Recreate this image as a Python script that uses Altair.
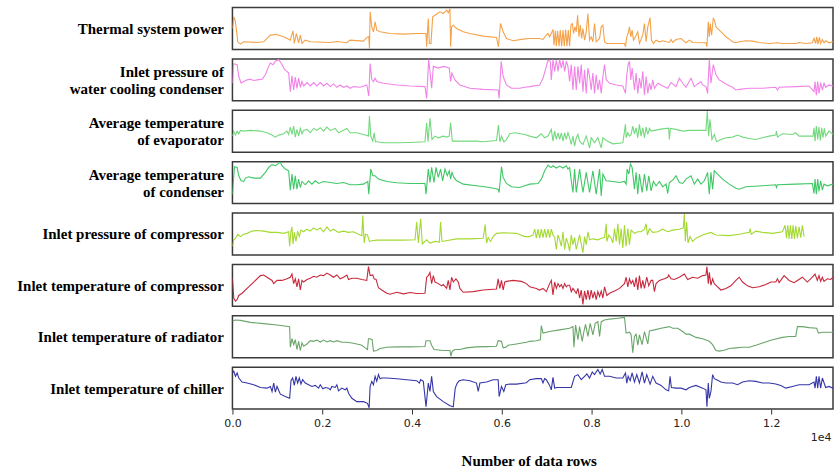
import altair as alt
import pandas as pd

# ---------------- data (row index, relative level) ----------------
labels = [
    "Thermal system power",
    ["Inlet pressure of", "water cooling condenser"],
    ["Average temperature", "of evaporator"],
    ["Average temperature", "of condenser"],
    "Inlet pressure of compressor",
    "Inlet temperature of compressor",
    "Inlet temperature of radiator",
    "Inlet temperature of chiller",
]
colors = ["#f4a24a", "#f183e8", "#74d97e", "#3fc766", "#a3d930", "#c8283c", "#6aa56a", "#3535a8"]
domains = [[0, 126], [0, 124], [0, 125], [0, 125], [0, 130], [0, 131], [0, 128], [0, 124]]

power_rows = [0,30,60,89,119,178,252,549,697,845,993,1104,1178,1289,1349,1378,1423,1474,1512,1549,1623,1734,2178,2326,2549,2623,2919,2993,3037,3052,3067,3104,3141,3178,3215,3289,3512,3808,4104,4312,4326,4363,4386,4423,4460,4512,4623,4697,4771,4808,4845,4860,4882,4919,4993,5141,5289,5586,5882,5926,5971,6030,6104,6252,6475,
    6622,6844,6918,6992,7029,7066,7103,7140,7163,7192,7215,7244,7274,7303,7333,7363,7392,7422,7452,7481,7511,7540,7570,7600,7629,7659,7689,7718,7748,7778,7807,7844,7881,7918,7955,7992,8029,8066,8103,8140,8178,8215,8252,8289,8340,8733,8755,8785,8815,8844,8874,8903,8933,8978,9029,9066,9141,9178,9215,9252,9303,9333,9377,9437,9511,9585,9733,9770,9807,9881,9992,10103,10178,10252,10474,10548,10570,10600,10622,10644,10674,10711,10740,10770,10844,10918,10992,11066,11141,11215,11289,11437,11585,11733,11955,12141,12252,12548,12622,12770,12918,12955,12992,13015,13044,13074,13103,13141,13178,13215,13289,13378]
power_vals = [63,98,88,58,23,16,23,21,23,43,45,40,36,28,56,18,48,20,43,18,28,23,21,24,20,28,25,36,38,3,113,68,53,83,58,53,48,46,48,48,8,93,18,18,98,103,113,108,118,110,123,8,68,73,63,53,48,40,36,8,78,53,33,26,31,
    33,33,30,43,48,38,48,60,13,56,10,56,10,58,10,58,10,60,10,58,10,73,78,48,68,53,103,38,73,33,63,28,53,108,28,38,23,78,23,28,33,68,73,23,18,18,8,38,48,68,38,58,28,38,53,18,43,78,23,68,96,28,18,28,23,26,21,30,21,30,33,20,28,21,20,20,8,83,38,78,43,93,88,68,58,48,38,31,23,20,23,26,25,21,18,20,18,18,21,18,20,33,18,38,16,36,18,30,20,26,20,23]

wcc_rows = [0,23,104,141,193,252,326,400,474,549,660,734,808,845,904,956,1030,1082,1126,1163,1215,1252,1289,1326,1363,1400,1437,1474,1512,1549,1586,1660,1734,1808,1882,1956,2030,2104,2178,2252,2326,2400,2475,2549,2623,2697,2845,2993,3037,3067,3104,3141,3178,3215,3363,3660,3956,4289,4326,4371,4400,4437,4475,4586,4697,4830,4860,4889,4956,5067,5289,5586,5919,5941,5986,6030,6104,6215,6400,6512,
    6622,6844,6918,6992,7029,7081,7103,7140,7178,7215,7252,7289,7326,7363,7400,7437,7474,7511,7548,7585,7622,7659,7696,7733,7770,7807,7844,7881,7918,7955,7992,8029,8066,8103,8140,8178,8215,8252,8289,8326,8400,8548,8696,8755,8785,8815,8844,8874,8903,8955,8992,9029,9066,9103,9141,9178,9215,9252,9289,9326,9363,9400,9474,9585,9696,9770,9881,9955,10029,10103,10215,10289,10363,10437,10474,10548,10585,10622,10659,10711,10770,10844,10992,11141,11215,11289,11511,11807,12103,12141,12178,12548,12844,12955,12978,13007,13037,13066,13103,13141,13178,13215,13289,13378]
wcc_vals = [52,110,107,72,52,57,62,64,60,62,64,77,102,112,107,117,122,112,102,92,87,82,27,74,32,70,37,67,40,57,44,54,44,54,44,54,44,52,42,50,40,47,40,44,37,42,40,47,14,110,64,57,67,57,52,47,44,42,7,122,87,37,102,97,102,97,57,82,62,47,37,34,32,7,117,72,47,37,37,40,
    42,47,67,102,120,117,62,122,87,120,87,122,97,120,87,117,102,57,107,32,102,32,102,52,107,27,92,22,97,72,32,82,22,77,32,62,22,72,107,62,52,47,44,22,77,107,117,62,97,32,82,22,67,37,87,17,72,22,52,32,62,37,52,44,37,54,42,67,52,40,67,42,50,57,47,42,22,122,52,107,77,62,50,40,32,34,37,37,40,32,40,42,44,27,57,17,57,22,54,32,52,40,47,44]

evap_rows = [0,30,67,104,141,178,252,400,623,771,882,956,1030,1141,1215,1252,1289,1326,1363,1400,1437,1474,1512,1549,1586,1660,1734,1808,1882,1956,2030,2104,2178,2289,2363,2437,2549,2623,2771,2919,3030,3052,3082,3126,3156,3186,3215,3363,3660,3956,4289,4326,4356,4400,4445,4512,4586,4697,4771,4830,4860,4897,4993,5437,5586,5882,5926,5956,5993,6045,6089,6178,6289,6512,
    6622,6770,6881,6955,7029,7103,7140,7178,7215,7252,7289,7326,7363,7400,7437,7474,7511,7548,7585,7622,7659,7696,7733,7807,7881,7955,7992,8066,8140,8215,8252,8326,8474,8696,8755,8770,8807,8844,8881,8918,8955,8992,9029,9066,9103,9141,9178,9215,9252,9289,9326,9400,9511,9659,9718,9733,9755,9881,10029,10178,10548,10578,10607,10637,10681,10733,10785,10881,10992,11141,11252,11363,11511,11659,11807,11955,12103,12118,12141,12252,12474,12548,12622,12844,12933,12955,12978,13007,13037,13066,13096,13126,13155,13185,13215,13289,13378]
evap_vals = [48,63,51,63,55,65,63,65,63,58,51,45,51,55,63,53,75,53,78,45,68,48,71,55,65,68,58,71,65,73,63,75,65,71,58,63,71,58,58,53,48,108,48,33,58,31,31,28,28,29,31,88,31,101,38,48,43,48,45,48,88,33,33,33,31,35,81,31,48,31,35,55,58,53,
    48,43,55,43,48,68,33,63,38,58,38,58,33,58,38,58,43,23,48,18,43,53,33,23,48,13,43,28,43,13,43,35,25,28,83,43,58,48,53,78,55,73,43,83,48,73,43,75,53,71,63,65,68,71,71,38,71,68,63,65,65,123,48,98,38,53,31,38,43,45,51,45,41,38,43,48,51,63,45,55,53,58,48,48,48,73,33,78,38,75,35,73,43,71,48,63,53]

cond_rows = [0,45,104,141,193,252,289,363,474,623,734,808,882,956,1030,1067,1104,1178,1252,1289,1326,1363,1400,1437,1474,1512,1549,1623,1697,1771,1845,1919,2030,2178,2326,2475,2623,2771,2919,3015,3037,3082,3126,3178,3252,3437,3660,3956,4289,4312,4363,4400,4437,4489,4534,4586,4637,4682,4734,4786,4830,4860,4889,4934,4993,5141,5437,5734,5919,5941,5993,6030,6104,6215,6400,6512,
    6622,6807,6881,6955,7029,7066,7103,7140,7215,7289,7363,7437,7474,7511,7548,7585,7622,7659,7733,7807,7881,7955,8029,8103,8178,8215,8252,8326,8474,8622,8733,8770,8792,8829,8866,8903,8955,8992,9029,9066,9126,9178,9229,9274,9326,9377,9437,9511,9585,9659,9696,9733,9807,9881,9955,10029,10103,10215,10289,10363,10437,10511,10585,10622,10659,10696,10733,10807,10918,11066,11215,11289,11437,11807,12103,12118,12141,12548,12918,12955,12978,13007,13037,13066,13103,13141,13178,13252,13378]
cond_vals = [28,110,108,83,68,66,76,80,76,76,93,108,116,113,120,123,113,103,98,40,88,43,83,43,73,48,66,56,68,58,68,60,66,63,60,63,56,56,58,66,28,103,83,83,73,66,62,60,60,28,103,63,108,63,108,78,103,68,103,83,98,73,93,78,68,58,53,48,43,33,110,78,60,50,48,53,
    58,60,73,98,115,110,108,113,106,112,106,113,103,108,68,33,103,33,103,33,93,33,98,28,103,23,88,68,66,63,66,58,103,88,118,108,43,93,28,88,33,88,38,83,38,66,53,66,50,58,30,63,70,83,63,60,73,83,58,73,58,68,93,28,93,43,98,88,73,58,46,43,50,53,56,48,56,58,60,30,73,28,73,36,68,40,58,53,58]

comp_p_rows = [0,30,67,119,178,252,326,437,549,697,845,993,1141,1252,1274,1304,1326,1349,1378,1415,1452,1489,1526,1586,1660,1734,1808,1882,1956,2030,2104,2178,2252,2363,2475,2586,2697,2808,2882,2904,2934,2963,3008,3052,3104,3215,3808,4067,4104,4141,4193,4230,4326,4400,4512,4608,4637,4667,4756,4993,5289,5586,5630,5660,5697,5749,5808,5882,6030,6326,6512,
    6622,6696,6733,6770,6807,6844,6881,6918,6955,6992,7029,7066,7103,7140,7178,7215,7252,7289,7326,7363,7400,7437,7474,7511,7548,7585,7622,7659,7733,7807,7844,7881,7918,7955,8029,8140,8215,8289,8326,8340,8385,8437,8474,8511,8548,8585,8622,8659,8696,8733,8770,8807,8844,8881,8955,9029,9103,9178,9215,9244,9289,9363,9474,9585,9696,9807,9955,10044,10066,10089,10118,10148,10192,10252,10326,10474,10659,10770,11066,11289,11511,11533,11555,11659,11807,12029,12252,12311,12341,12370,12400,12429,12459,12489,12518,12548,12585,12622,12659,12696,12733]
comp_p_vals = [27,47,52,64,57,64,67,74,76,74,70,70,67,72,27,74,87,34,70,42,74,57,77,72,80,74,84,77,84,72,87,74,80,70,74,70,72,64,60,122,37,64,62,42,44,46,46,47,102,37,112,34,47,37,42,40,102,42,44,50,50,52,94,37,54,42,57,67,69,67,57,
    57,62,80,52,80,52,80,54,80,54,80,54,80,62,54,17,62,47,27,72,17,52,37,12,62,32,54,17,62,7,57,32,72,47,50,47,52,54,97,42,62,52,37,82,42,97,32,82,22,92,27,82,32,77,67,72,72,80,97,62,82,70,72,80,72,77,80,84,127,42,102,37,57,42,52,62,70,62,60,64,70,82,64,74,70,67,72,92,52,92,50,92,50,92,50,90,52,87,54,92,57]

comp_t_rows = [0,30,67,104,141,215,326,474,623,697,771,882,919,993,1104,1215,1289,1326,1363,1400,1437,1474,1512,1549,1586,1660,1734,1808,1882,1956,2030,2104,2178,2252,2326,2400,2475,2549,2586,2660,2771,2882,2993,3030,3067,3126,3156,3200,3252,3326,3437,3512,3660,3808,3956,4104,4289,4326,4363,4400,4437,4475,4512,4586,4660,4697,4771,4808,4845,4882,4919,4978,5030,5067,5141,5363,5586,5882,5919,5956,5993,6030,6067,6104,6252,6437,6548,
    6622,6770,6844,6918,6992,7066,7103,7140,7178,7215,7252,7289,7326,7363,7400,7437,7474,7511,7548,7585,7659,7696,7733,7770,7807,7844,7881,7918,7955,7992,8029,8066,8103,8140,8178,8215,8252,8289,8340,8400,8511,8622,8733,8770,8807,8844,8881,8918,8955,8992,9029,9066,9103,9141,9178,9229,9274,9326,9363,9400,9437,9511,9622,9696,9718,9770,9844,9955,10066,10141,10252,10363,10474,10548,10570,10600,10622,10659,10696,10733,10807,10881,10992,11103,11215,11289,11363,11474,11585,11733,11881,11992,12103,12141,12178,12289,12400,12511,12585,12696,12807,12918,12978,13029,13066,13103,13141,13178,13252,13326,13378]
comp_t_vals = [86,26,16,21,34,41,56,76,96,98,91,81,71,81,81,86,91,101,71,86,61,86,51,81,76,84,88,94,91,98,96,104,98,91,98,86,91,98,84,88,88,84,81,124,96,98,86,84,58,51,41,38,44,39,43,40,41,91,96,106,71,96,76,71,64,68,56,81,51,91,76,86,76,56,44,46,51,54,86,56,81,51,76,78,81,78,71,
    61,56,51,56,46,71,81,36,76,56,71,61,68,56,71,61,66,66,46,56,41,56,26,51,6,48,21,51,21,51,26,46,21,46,31,48,26,61,34,41,48,56,71,91,61,86,71,81,61,91,51,96,56,81,56,91,64,81,81,46,71,81,86,91,98,86,84,91,101,84,91,88,96,98,124,71,106,66,86,71,61,51,56,64,81,91,76,64,58,61,68,76,76,86,74,96,81,74,81,91,76,91,101,81,96,78,91,78,86,84,91]

rad_rows = [0,67,178,400,697,993,1274,1289,1326,1363,1400,1437,1474,1512,1549,1586,1660,1734,1808,1882,1956,2030,2104,2178,2252,2326,2437,2549,2660,2771,2882,2956,3008,3030,3067,3112,3141,3215,3289,3437,3660,3956,4289,4312,4400,4437,4489,4697,4845,4867,4897,4956,5067,5215,5437,5660,5882,5919,5993,6030,6089,6141,6326,6548,
    6622,6770,6859,6881,6918,7066,7289,7511,7585,7607,7644,7696,7733,7792,7829,7866,7918,7970,8029,8081,8140,8178,8215,8289,8400,8548,8733,8770,8844,8881,8918,8955,8992,9029,9066,9126,9178,9252,9289,9400,9548,9733,9807,9918,10029,10103,10178,10326,10474,10622,10696,10770,10844,10955,11066,11215,11363,11511,11659,11807,12029,12252,12400,12548,12585,12696,12844,13015,13052,13141,13378]
rad_vals = [112,115,114,108,104,100,95,32,58,40,55,25,50,22,45,35,42,52,50,54,48,54,48,52,48,52,47,47,45,42,38,30,25,58,58,55,20,22,28,32,33,33,34,52,52,38,25,22,22,5,20,25,25,30,33,34,35,52,50,30,32,38,42,47,
    50,52,55,98,75,80,85,90,95,32,100,55,95,50,80,102,65,105,70,105,110,65,110,115,118,120,123,75,78,70,15,65,72,38,70,40,80,42,82,85,90,95,90,90,80,72,72,62,58,50,40,22,20,23,28,30,32,32,38,45,55,62,65,65,95,95,92,90,75,78,78]

chil_rows = [0,30,67,104,141,215,326,474,623,771,845,882,919,956,993,1067,1178,1274,1304,1341,1378,1415,1452,1489,1526,1563,1623,1697,1771,1845,1919,1956,2015,2067,2141,2178,2215,2289,2326,2363,2437,2512,2549,2586,2660,2771,2919,3008,3045,3067,3104,3141,3178,3215,3252,3289,3326,3437,3660,3882,4104,4163,4193,4252,4312,4363,4400,4437,4475,4549,4697,4845,4919,4963,5008,5052,5141,5289,5437,5475,5512,5660,5808,5919,5941,5993,6045,6089,6178,6326,6548,
    6622,6770,6881,6918,6955,6992,7066,7103,7140,7178,7215,7548,7622,7696,7770,7844,7896,7955,8015,8066,8140,8192,8237,8289,8400,8548,8696,8755,8785,8815,8859,8903,8955,9007,9066,9126,9178,9229,9303,9363,9437,9548,9659,9718,9748,9778,9881,9992,10103,10178,10326,10474,10548,10570,10600,10622,10659,10696,10733,10785,10881,10992,11141,11252,11363,11511,11659,11807,11955,12103,12215,12326,12474,12622,12844,12955,12978,13007,13037,13066,13103,13141,13215,13289,13378]
chil_vals = [107,112,97,107,92,80,77,72,64,62,67,52,77,50,67,44,37,32,84,92,70,97,77,92,74,87,77,72,67,70,62,72,60,64,62,57,67,64,72,54,62,57,62,47,32,22,22,17,4,67,82,72,97,82,102,90,92,92,90,87,84,77,87,82,7,77,52,97,52,37,22,10,7,62,77,84,87,84,77,52,77,80,87,87,37,67,52,72,74,74,78,
    87,90,90,77,90,87,70,57,94,62,64,64,97,102,87,97,104,92,110,102,117,104,117,97,97,92,92,107,77,97,84,107,80,102,77,110,77,102,74,97,77,70,57,54,97,64,62,62,57,64,70,62,57,7,77,32,52,102,90,87,80,77,77,72,80,84,82,77,77,74,70,62,67,72,72,80,62,97,62,97,62,92,64,67,62]

series_rows = [power_rows, wcc_rows, evap_rows, cond_rows, comp_p_rows, comp_t_rows, rad_rows, chil_rows]
series_vals = [power_vals, wcc_vals, evap_vals, cond_vals, comp_p_vals, comp_t_vals, rad_vals, chil_vals]

x_ticks = [0, 2000, 4000, 6000, 8000, 10000, 12000]
x_max = 13378
offset_label = ["1e4"]

W, H = 602, 42
SERIF = "Liberation Serif"
LH = 17

charts = []
n = len(labels)
for i in range(n):
    df = pd.DataFrame({"row": series_rows[i], "val": series_vals[i]})
    last = i == n - 1
    nlines = len(labels[i]) if isinstance(labels[i], list) else 1
    if last:
        xaxis = alt.Axis(values=x_ticks, labelExpr="format(datum.value / 10000, '.1f')",
                         title="Number of data rows", titleFont=SERIF, titleFontSize=15,
                         titleFontWeight="bold", titleColor="#000", titleY=52, titleX=297,
                         titleBaseline="middle", titleAlign="center",
                         labelFont="DejaVu Sans", labelFontSize=11, labelColor="#222",
                         labelFlush=False, labelOverlap=False,
                         tickColor="#333", tickSize=5, labelPadding=3, domain=False, grid=False)
    else:
        xaxis = None
    yaxis = alt.Axis(title=labels[i], titleAngle=0, titleAlign="right", titleBaseline="middle",
                     titleX=-9, titleY=H / 2 - (nlines - 1) * LH / 2, titleFont=SERIF, titleFontSize=15,
                     titleFontWeight="bold", titleColor="#000", titleLineHeight=LH,
                     labels=False, ticks=False, domain=False, grid=False)
    line = alt.Chart(df).mark_line(color=colors[i], strokeWidth=1.1, clip=True).encode(
        x=alt.X("row:Q", scale=alt.Scale(domain=[0, x_max], nice=False, zero=False), axis=xaxis),
        y=alt.Y("val:Q", scale=alt.Scale(domain=domains[i], nice=False, zero=False), axis=yaxis),
    )
    if last:
        txt = alt.Chart(pd.DataFrame({"t": offset_label})).mark_text(
            font="DejaVu Sans", fontSize=11, color="#222", align="center", baseline="middle"
        ).encode(x=alt.value(590), y=alt.value(H + 29), text="t:N")
        panel = alt.layer(line, txt).properties(width=W, height=H)
    else:
        panel = line.properties(width=W, height=H)
    charts.append(panel)

chart = alt.vconcat(*charts, spacing=7.5).resolve_scale(x="independent", y="independent").properties(
    padding={"left": 15, "top": 6, "right": 0, "bottom": 0},
    background="white",
).configure_view(stroke="#3a3a3a", strokeWidth=1.5)

chart.save("out.html", embed_options={"renderer": "svg", "actions": False})
